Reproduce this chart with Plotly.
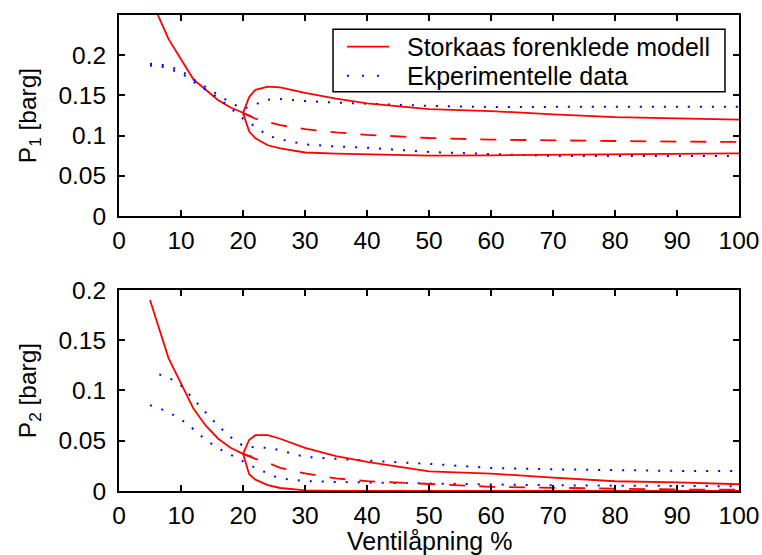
import plotly.graph_objects as go
from plotly.subplots import make_subplots

# ---------------- data ----------------
# Model, stable branch (solid)
x_stable = [5, 8, 10, 12, 14, 16, 18, 20, 21.5]
p1_stable = [0.272, 0.220, 0.195, 0.170, 0.157, 0.144, 0.135, 0.128, 0.1235]
p2_stable = [0.190, 0.132, 0.107, 0.082, 0.065, 0.052, 0.043, 0.037, 0.034]

# Model, unstable branch (dashed)
x_unstable = [20, 22, 24, 26, 30, 35, 40, 50, 60, 70, 80, 90, 100]
p1_unstable = [0.128, 0.121, 0.117, 0.113, 0.108, 0.104, 0.101, 0.097, 0.095, 0.094, 0.093, 0.0925, 0.0922]
p2_unstable = [0.037, 0.032, 0.028, 0.023, 0.0175, 0.0125, 0.0098, 0.0067, 0.0042, 0.0032, 0.002, 0.0015, 0.0013]

# Model, limit cycle max / min (solid)
x_cycle = [20, 21, 22, 24, 26, 30, 35, 40, 50, 60, 70, 80, 90, 100]
p1_cycle_max = [0.128, 0.148, 0.157, 0.161, 0.160, 0.153, 0.146, 0.140, 0.133, 0.1305, 0.1265, 0.123, 0.1215, 0.120]
p1_cycle_min = [0.128, 0.105, 0.0966, 0.088, 0.084, 0.079, 0.0775, 0.0767, 0.075, 0.0755, 0.0763, 0.0767, 0.0772, 0.078]
p2_cycle_max = [0.037, 0.051, 0.0555, 0.0555, 0.052, 0.043, 0.0346, 0.029, 0.0196, 0.0173, 0.0133, 0.0097, 0.0085, 0.0067]
p2_cycle_min = [0.037, 0.0167, 0.0113, 0.0058, 0.003, 0.0007, 0.0002, 0.0, 0.0, 0.0, 0.0, 0.0, 0.0, 0.0]

# Experimental data P1 (dotted)
x_exp1 = [5, 6, 8, 10, 12, 14, 16, 18, 20, 22, 24, 26, 30, 35, 40, 50, 60, 70, 80, 90, 100]
p1_exp_max = [0.189, 0.190, 0.186, 0.181, 0.170, 0.160, 0.150, 0.141, 0.133, 0.139, 0.1447, 0.1455, 0.143, 0.141,
              0.1397, 0.137, 0.1356, 0.136, 0.136, 0.136, 0.136]
p1_exp_min = [0.187, 0.188, 0.183, 0.178, 0.167, 0.157, 0.147, 0.134, 0.121, 0.111, 0.100, 0.0955, 0.089, 0.0865,
              0.085, 0.0796, 0.0767, 0.0746, 0.0746, 0.0746, 0.0746]

# Experimental data P2 (dotted)
x_exp2_max = [6.5, 8.5, 10, 12, 14, 16, 18, 20, 22, 24, 26, 28, 30, 35, 40, 45, 50, 60, 70, 80, 90, 100]
p2_exp_max = [0.116, 0.111, 0.105, 0.092, 0.078, 0.0648, 0.0536, 0.045, 0.0432, 0.043, 0.0405, 0.037, 0.034, 0.032,
              0.0306, 0.0286, 0.027, 0.023, 0.0216, 0.0206, 0.020, 0.0199]
x_exp2_min = [5, 7, 9, 11, 13, 15, 17, 19, 21, 23, 25, 27, 30, 35, 40, 50, 60, 70, 80, 90, 100]
p2_exp_min = [0.0854, 0.081, 0.075, 0.067, 0.056, 0.0465, 0.039, 0.033, 0.026, 0.020, 0.0146, 0.0118, 0.0099, 0.009,
              0.0084, 0.0075, 0.0065, 0.0057, 0.0052, 0.0048, 0.0047]

x_ticks = [0, 10, 20, 30, 40, 50, 60, 70, 80, 90, 100]
y1_ticks = [0, 0.05, 0.1, 0.15, 0.2]
y1_ticktext = ["0", "0.05", "0.1", "0.15", "0.2"]
y2_ticks = [0, 0.05, 0.1, 0.15, 0.2]
y2_ticktext = ["0", "0.05", "0.1", "0.15", "0.2"]

legend_labels = ["Storkaas forenklede modell", "Ekperimentelle data"]

# ---------------- figure ----------------
RED = "#ff0000"
BLUE = "#0000ff"
FONT = "Liberation Sans, Arial, sans-serif"
FS_TICK = 24.5
FS = 25

fig = make_subplots(rows=2, cols=1, vertical_spacing=0.1554)

solid = dict(color=RED, width=1.8)
dashed = dict(color=RED, width=1.8, dash="16px,14px")
dotted = dict(color=BLUE, width=2, dash="2px,10px")

# top panel
fig.add_trace(go.Scatter(x=x_stable, y=p1_stable, mode="lines", line=solid, name=legend_labels[0]), row=1, col=1)
fig.add_trace(go.Scatter(x=x_exp1, y=p1_exp_max, mode="lines", line=dotted, name=legend_labels[1]), row=1, col=1)
fig.add_trace(go.Scatter(x=x_exp1, y=p1_exp_min, mode="lines", line=dotted), row=1, col=1)
fig.add_trace(go.Scatter(x=x_unstable, y=p1_unstable, mode="lines", line=dashed), row=1, col=1)
fig.add_trace(go.Scatter(x=x_cycle, y=p1_cycle_max, mode="lines", line=solid), row=1, col=1)
fig.add_trace(go.Scatter(x=x_cycle, y=p1_cycle_min, mode="lines", line=solid), row=1, col=1)

# bottom panel
fig.add_trace(go.Scatter(x=x_stable, y=p2_stable, mode="lines", line=solid), row=2, col=1)
fig.add_trace(go.Scatter(x=x_exp2_max, y=p2_exp_max, mode="lines", line=dotted), row=2, col=1)
fig.add_trace(go.Scatter(x=x_exp2_min, y=p2_exp_min, mode="lines", line=dotted), row=2, col=1)
fig.add_trace(go.Scatter(x=x_unstable, y=p2_unstable, mode="lines", line=dashed), row=2, col=1)
fig.add_trace(go.Scatter(x=x_cycle, y=p2_cycle_max, mode="lines", line=solid), row=2, col=1)
fig.add_trace(go.Scatter(x=x_cycle, y=p2_cycle_min, mode="lines", line=solid), row=2, col=1)

axis_common = dict(
    showgrid=False, zeroline=False, showline=True, linecolor="black", linewidth=2,
    mirror="allticks", ticks="inside", ticklen=6, tickwidth=1.5, tickcolor="black",
    tickfont=dict(family=FONT, size=FS_TICK, color="black"),
)

for r in (1, 2):
    fig.update_xaxes(range=[0, 100], tickvals=x_ticks, ticktext=[str(v) for v in x_ticks],
                     ticklabelstandoff=2, row=r, col=1, **axis_common)

fig.update_yaxes(range=[0, 0.25], tickvals=y1_ticks, ticktext=y1_ticktext, ticklabelstandoff=6,
                 title=dict(text="P<sub>1</sub> [barg]", font=dict(family=FONT, size=FS_TICK, color="black"), standoff=15),
                 row=1, col=1, **axis_common)
fig.update_yaxes(range=[0, 0.2], tickvals=y2_ticks, ticktext=y2_ticktext, ticklabelstandoff=6,
                 title=dict(text="P<sub>2</sub> [barg]", font=dict(family=FONT, size=FS_TICK, color="black"), standoff=15),
                 row=2, col=1, **axis_common)

# manual legend (box, line samples, texts) in paper coordinates
lg_x0, lg_x1, lg_y0, lg_y1 = 0.3452, 0.9774, 0.8389, 0.970
sample_x0, sample_x1 = 0.3677, 0.4355
row_y = [0.9334, 0.8725]
text_x = 0.4613

shapes = [
    dict(type="rect", xref="paper", yref="paper", x0=lg_x0, x1=lg_x1, y0=lg_y0, y1=lg_y1,
         line=dict(color="black", width=1.5), fillcolor="white", layer="above"),
    dict(type="line", xref="paper", yref="paper", x0=sample_x0, x1=sample_x1, y0=row_y[0], y1=row_y[0],
         line=solid, layer="above"),
    dict(type="line", xref="paper", yref="paper", x0=sample_x0, x1=sample_x1, y0=row_y[1], y1=row_y[1],
         line=dict(color=BLUE, width=2, dash="2px,13px"), layer="above"),
]

annotations = [
    dict(text=legend_labels[i], x=text_x, y=row_y[i], xref="paper", yref="paper",
         xanchor="left", yanchor="middle", showarrow=False,
         font=dict(family=FONT, size=FS, color="black"))
    for i in range(2)
]
annotations.append(dict(text="Ventilåpning %", x=0.5, y=-0.0708, xref="paper", yref="paper",
                        xanchor="center", yanchor="top", showarrow=False,
                        font=dict(family=FONT, size=FS, color="black")))

fig.update_layout(
    width=762, height=555,
    margin=dict(l=119, r=23, t=15, b=64, autoexpand=False),
    paper_bgcolor="white", plot_bgcolor="white",
    font=dict(family=FONT, size=FS, color="black"),
    showlegend=False,
    shapes=shapes,
    annotations=annotations,
)

fig.write_html("out.html")
